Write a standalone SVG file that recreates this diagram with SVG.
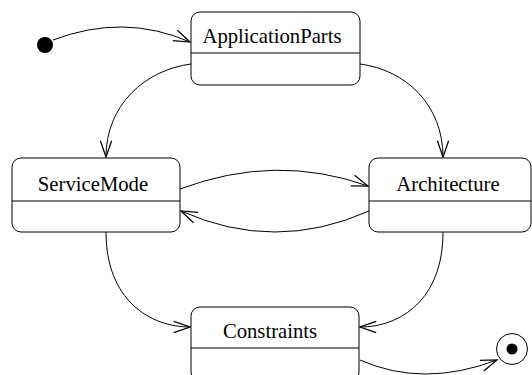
<svg xmlns="http://www.w3.org/2000/svg" width="532" height="375" viewBox="0 0 532 375">
<style>
.box{fill:#fff;stroke:#000;stroke-width:1}
.div{stroke:#000;stroke-width:1}
.lbl{font-size:20.7px;fill:#000;text-anchor:middle}
.edge{fill:none;stroke:#000;stroke-width:1;marker-end:url(#arr)}
</style>
<defs>
<marker id="arr" markerUnits="userSpaceOnUse" markerWidth="20" markerHeight="20" refX="0" refY="0" viewBox="-14 -7 16 14" orient="auto" overflow="visible">
<path d="M-13,-4.5 L0,0 L-13,4.5" fill="none" stroke="#000" stroke-width="1"/>
</marker>
</defs>
<rect width="532" height="375" fill="#fff"/>
<g id="connectors">
<path class="edge" d="M53,40 Q124,13 190,42"/>
<path class="edge" d="M191,64 C145,70 106,105 106,157"/>
<path class="edge" d="M360,64 C406,70 443,105 443,157"/>
<path class="edge" d="M180,189 Q276,153 368,186"/>
<path class="edge" d="M369,211 Q275,253 181,211"/>
<path class="edge" d="M106,232 C106,300 150,327 190,327"/>
<path class="edge" d="M443,232 C443,300 400,327 360,327"/>
<path class="edge" d="M360,360 Q423,388 497,360"/>
</g>
<g id="initial">
<circle cx="45" cy="45" r="8" fill="#000"/>
</g>
<g id="ApplicationParts">
<rect class="box" x="191" y="12" width="169" height="73" rx="9"/>
<line class="div" x1="191" y1="53" x2="360" y2="53"/>
<text class="lbl" font-family="Liberation Serif, Times New Roman, serif" x="272" y="43">ApplicationParts</text>
</g>
<g id="ServiceMode">
<rect class="box" x="12" y="158" width="168" height="74" rx="9"/>
<line class="div" x1="12" y1="201" x2="180" y2="201"/>
<text class="lbl" font-family="Liberation Serif, Times New Roman, serif" x="93" y="191">ServiceMode</text>
</g>
<g id="Architecture">
<rect class="box" x="369" y="158" width="162" height="74" rx="9"/>
<line class="div" x1="369" y1="201" x2="531" y2="201"/>
<text class="lbl" font-family="Liberation Serif, Times New Roman, serif" x="448" y="191">Architecture</text>
</g>
<g id="Constraints">
<rect class="box" x="191" y="307" width="168" height="74" rx="9"/>
<line class="div" x1="191" y1="348" x2="359" y2="348"/>
<text class="lbl" font-family="Liberation Serif, Times New Roman, serif" x="270" y="338">Constraints</text>
</g>
<g id="final">
<circle cx="512" cy="349" r="15.5" fill="#fff" stroke="#000" stroke-width="1"/>
<circle cx="512" cy="349" r="5.5" fill="#000"/>
</g>
</svg>
